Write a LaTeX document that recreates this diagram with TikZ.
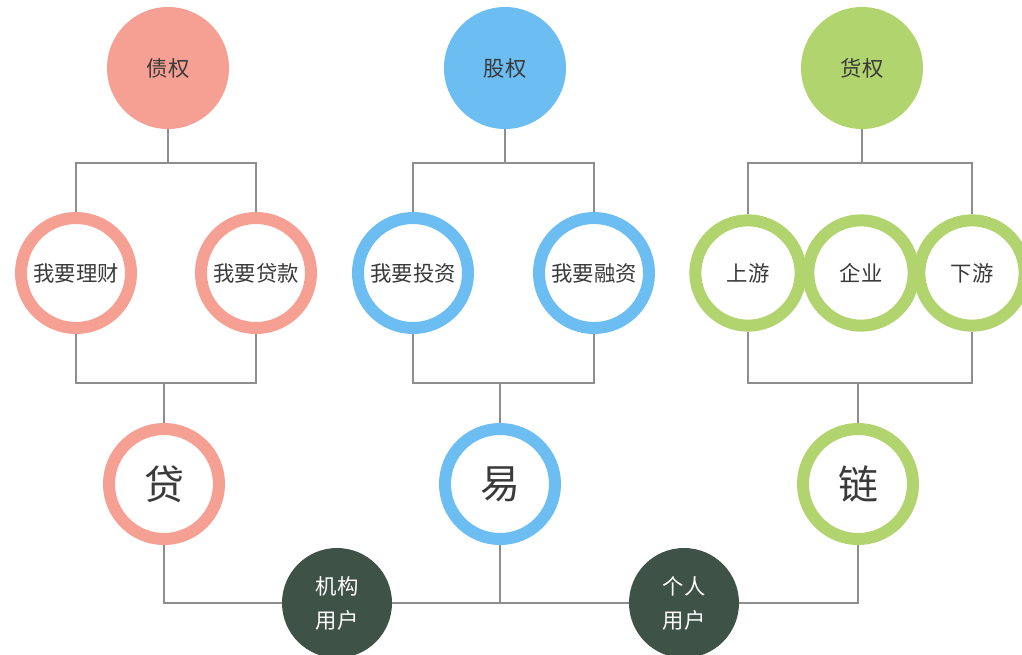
\documentclass[tikz,border=0pt]{standalone}
\usepackage{fontspec}
\newfontfamily\cjk{Noto Sans CJK SC}
\definecolor{debtred}{HTML}{F5A092}
\definecolor{equityblue}{HTML}{6CBDF2}
\definecolor{goodsgreen}{HTML}{B1D46E}
\definecolor{userdark}{HTML}{3F5247}
\definecolor{linegray}{HTML}{8E8E8E}
\definecolor{txtgray}{HTML}{3A3A3A}
\begin{document}
\begin{tikzpicture}[x=0.75pt,y=-0.75pt]
		\tikzstyle{top} = [circle,minimum size=91.5pt,inner sep=0pt,text=txtgray,font=\cjk\fontsize{16}{19}\selectfont]
		\tikzstyle{ring} = [circle,draw,line width=9pt,fill=white,minimum size=82.5pt,inner sep=0pt,text=txtgray,font=\cjk\fontsize{16}{19}\selectfont]
		\tikzstyle{smallring} = [ring,minimum size=79pt]
		\tikzstyle{bigring} = [ring,font=\cjk\fontsize{30}{34}\selectfont]
		\tikzstyle{user} = [circle,fill=userdark,minimum size=82.5pt,inner sep=0pt,text=white,align=center,font=\cjk\fontsize{16}{25.5}\selectfont]
		\tikzstyle{link} = [draw=linegray,line width=1.5pt]
		\useasboundingbox (0,0) rectangle (1022,654);

		\node[top,fill=debtred] (zq) at (168,68) {债权};
		\node[top,fill=equityblue] (gq) at (505,68) {股权};
		\node[top,fill=goodsgreen] (hq) at (862,68) {货权};

		\node[ring,draw=debtred] (licai) at (76,273) {我要理财};
		\node[ring,draw=debtred] (daikuan) at (256,273) {我要贷款};
		\node[ring,draw=equityblue] (touzi) at (413,273) {我要投资};
		\node[ring,draw=equityblue] (rongzi) at (594,273) {我要融资};
		\node[smallring,draw=goodsgreen] (sy) at (748,273) {上游};
		\node[smallring,draw=goodsgreen] (qy) at (861,273) {企业};
		\node[smallring,draw=goodsgreen] (xy) at (972,273) {下游};

		\node[bigring,draw=debtred] (dai) at (164,484) {贷};
		\node[bigring,draw=equityblue] (yi) at (500,484) {易};
		\node[bigring,draw=goodsgreen] (lian) at (858,484) {链};

		\node[user] (jg) at (337,603) {机构\\用户};
		\node[user] (gr) at (684,603) {个人\\用户};

		% top tree
		\draw[link] (zq.south) -- (zq.south |- 0,163);
		\draw[link] (licai.north) |- (zq.south |- 0,163) -| (daikuan.north);
		\draw[link] (gq.south) -- (gq.south |- 0,163);
		\draw[link] (touzi.north) |- (gq.south |- 0,163) -| (rongzi.north);
		\draw[link] (hq.south) -- (hq.south |- 0,163);
		\draw[link] (sy.north) |- (hq.south |- 0,163) -| (xy.north);

		% middle tree
		\draw[link] (licai.south) |- (dai.north |- 0,383) -| (daikuan.south);
		\draw[link] (dai.north) -- (dai.north |- 0,383);
		\draw[link] (touzi.south) |- (yi.north |- 0,383) -| (rongzi.south);
		\draw[link] (yi.north) -- (yi.north |- 0,383);
		\draw[link] (sy.south) |- (lian.north |- 0,383) -| (xy.south);
		\draw[link] (lian.north) -- (lian.north |- 0,383);

		% users
		\draw[link] (dai.south) |- (jg.west);
		\draw[link] (jg.east) -- (gr.west);
		\draw[link] (yi.south) -- (yi.south |- jg.east);
		\draw[link] (gr.east) -| (lian.south);
	\end{tikzpicture}
\end{document}
